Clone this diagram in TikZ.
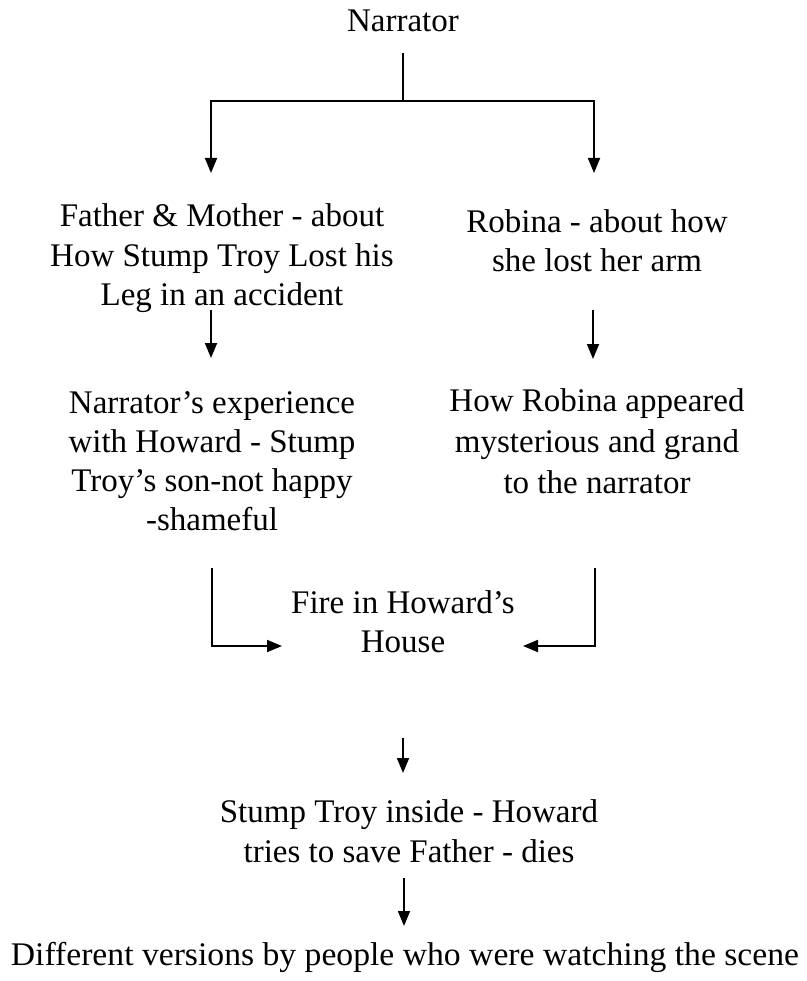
\documentclass[tikz,border=0pt]{standalone}
\usepackage{fontspec}
\setmainfont{Liberation Serif}
\usetikzlibrary{arrows.meta}
\tikzset{
  txt/.style={anchor=base, inner sep=0pt, align=center,
    font=\fontsize{33}{39}\selectfont},
  link/.style={line width=1.8pt},
  arr/.style={line width=1.8pt, -{Triangle[length=15pt,width=12pt]}}
}
\begin{document}
\begin{tikzpicture}[x=1pt,y=-1pt]
\useasboundingbox (0,0) rectangle (806,981);
\fill[white] (0,0) rectangle (806,981);

% story elements (each node sits on the baseline of its last line)
\node[txt] (narr) at (403,32) {Narrator};
\node[txt] (parents) at (222,305) {Father \& Mother - about\\How Stump Troy Lost his\\Leg in an accident};
\node[txt] (robina) at (597,272) {Robina - about how\\she lost her arm};
\node[txt] (howard) at (212,530) {Narrator’s experience\\with Howard - Stump\\Troy’s son-not happy\\-shameful};
\node[txt,font=\fontsize{33}{41}\selectfont] (grand) at (597,493) {How Robina appeared\\mysterious and grand\\to the narrator};
\node[txt] (fire) at (403,652) {Fire in Howard’s\\House};
\node[txt,font=\fontsize{33}{40}\selectfont] (inside) at (409,862) {Stump Troy inside - Howard\\tries to save Father - dies};
\node[txt] (versions) at (405,965) {\scalebox{1.02}[1]{Different versions by people who were watching the scene}};

% connector end points
\coordinate (nt) at (403,53);
\coordinate (split) at (403,101);
\coordinate (aL) at (211,173);
\coordinate (aR) at (594,173);
\coordinate (pL) at (211,310);
\coordinate (qL) at (211,358);
\coordinate (pR) at (593,310);
\coordinate (qR) at (593,359);
\coordinate (hL) at (212,568);
\coordinate (eL) at (282,646);
\coordinate (hR) at (595,568);
\coordinate (eR) at (523,646);
\coordinate (f1) at (403,738);
\coordinate (f2) at (403,773);
\coordinate (s1) at (404,878);
\coordinate (s2) at (404,926);

% connectors
\draw[link] (nt) -- (split);
\draw[arr] (split) -| (aL);
\draw[arr] (split) -| (aR);
\draw[arr] (pL) -- (qL);
\draw[arr] (pR) -- (qR);
\draw[arr] (hL) |- (eL);
\draw[arr] (hR) |- (eR);
\draw[arr] (f1) -- (f2);
\draw[arr] (s1) -- (s2);
\end{tikzpicture}
\end{document}
